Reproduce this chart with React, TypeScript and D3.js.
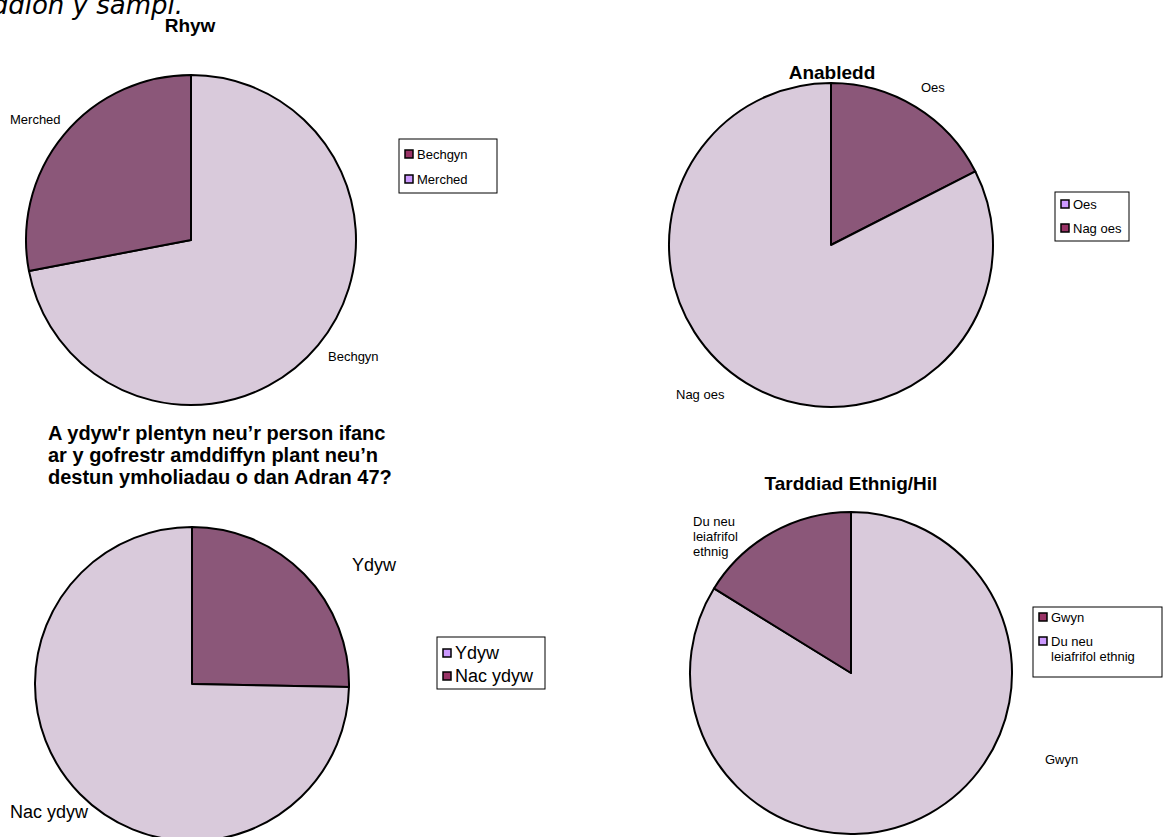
import React from "react";
import * as d3 from "d3";

const genderLabels = ["Bechgyn", "Merched"];
const genderValues = [72, 28];
const disabilityLabels = ["Oes", "Nag oes"];
const disabilityValues = [17.5, 82.5];
const registerLabels = ["Ydyw", "Nac ydyw"];
const registerValues = [25.3, 74.7];
const ethnicLabels = ["Gwyn", "Du neu leiafrifol ethnig"];
const ethnicValues = [83.8, 16.2];

const DARK = "#8b5779";
const LIGHT = "#d9cadb";
const MAROON = "#993366";
const LILAC = "#cc99ff";
const FONT = "'Liberation Sans', Arial, sans-serif";

type PieProps = {
  cx: number;
  cy: number;
  r: number;
  values: number[];
  fills: string[];
};

function Pie({ cx, cy, r, values, fills }: PieProps) {
  const pie = d3.pie<number>().sort(null).value((d) => d)(values);
  const arc = d3.arc<d3.PieArcDatum<number>>().innerRadius(0).outerRadius(r);
  return (
    <g transform={`translate(${cx},${cy})`}>
      {pie.map((p, i) => (
        <path key={i} d={arc(p) || ""} fill={fills[i]} stroke="#000" strokeWidth={2} strokeLinejoin="round" />
      ))}
    </g>
  );
}

type LegendProps = {
  x: number;
  y: number;
  w: number;
  h: number;
  items: { lines: string[]; y: number; color: string }[];
  fontSize: number;
  sw: number;
};

function Legend({ x, y, w, h, items, fontSize, sw }: LegendProps) {
  return (
    <g>
      <rect x={x} y={y} width={w} height={h} fill="#fff" stroke="#000" strokeWidth={1} />
      {items.map((it, i) => (
        <g key={i}>
          <rect x={x + 6} y={it.y - sw / 2} width={sw} height={sw} fill={it.color} stroke="#000" strokeWidth={1.5} />
          {it.lines.map((ln, j) => (
            <text key={j} x={x + 6 + sw + 4} y={it.y + j * fontSize * 1.15} dy="0.35em" fontSize={fontSize} fontFamily={FONT} fill="#000">
              {ln}
            </text>
          ))}
        </g>
      ))}
    </g>
  );
}

export default function App() {
  const titleStyle = { fontFamily: FONT, fontWeight: 700, fontSize: 19, fill: "#000" } as const;
  const lbl = { fontFamily: FONT, fontSize: 13, fill: "#000" } as const;
  return (
    <svg width={1167} height={837} style={{ position: "absolute", left: 0, top: 0, background: "#fff" }}>
      <text x={183} y={14} textAnchor="end" fontFamily="'DejaVu Sans', Verdana, sans-serif" fontStyle="italic" fontSize={26} fill="#000">
        Nodweddion y sampl.
      </text>

      {/* Rhyw */}
      <text x={190} y={32} textAnchor="middle" {...titleStyle}>Rhyw</text>
      <Pie cx={191} cy={240} r={165} values={genderValues} fills={[LIGHT, DARK]} />
      <text x={328} y={361} {...lbl}>{genderLabels[0]}</text>
      <text x={10} y={124} {...lbl}>{genderLabels[1]}</text>
      <Legend x={399} y={139} w={98} h={54} fontSize={13} sw={8}
        items={[{ lines: [genderLabels[0]], y: 154, color: MAROON }, { lines: [genderLabels[1]], y: 179, color: LILAC }]} />

      {/* Anabledd */}
      <text x={832} y={79} textAnchor="middle" {...titleStyle}>Anabledd</text>
      <Pie cx={831} cy={245} r={162} values={disabilityValues} fills={[DARK, LIGHT]} />
      <text x={921} y={92} {...lbl}>{disabilityLabels[0]}</text>
      <text x={676} y={399} {...lbl}>{disabilityLabels[1]}</text>
      <Legend x={1055} y={192} w={74} h={49} fontSize={13} sw={8}
        items={[{ lines: [disabilityLabels[0]], y: 204, color: LILAC }, { lines: [disabilityLabels[1]], y: 228, color: MAROON }]} />

      {/* Register */}
      <text x={48} y={440} {...titleStyle} fontSize={20}>
        <tspan x={48} dy={0}>A ydyw'r plentyn neu’r person ifanc</tspan>
        <tspan x={48} dy={22}>ar y gofrestr amddiffyn plant neu’n</tspan>
        <tspan x={48} dy={22}>destun ymholiadau o dan Adran 47?</tspan>
      </text>
      <Pie cx={192} cy={684} r={157} values={registerValues} fills={[DARK, LIGHT]} />
      <text x={352} y={571} fontFamily={FONT} fontSize={18} fill="#000">{registerLabels[0]}</text>
      <text x={10} y={818} fontFamily={FONT} fontSize={18} fill="#000">{registerLabels[1]}</text>
      <Legend x={437} y={637} w={108} h={52} fontSize={18} sw={8}
        items={[{ lines: [registerLabels[0]], y: 653, color: LILAC }, { lines: [registerLabels[1]], y: 676, color: MAROON }]} />

      {/* Ethnic */}
      <text x={851} y={490} textAnchor="middle" {...titleStyle}>Tarddiad Ethnig/Hil</text>
      <Pie cx={851} cy={673} r={161} values={ethnicValues} fills={[LIGHT, DARK]} />
      <text x={1045} y={764} {...lbl}>{ethnicLabels[0]}</text>
      <text x={693} y={526} {...lbl}>
        <tspan x={693} dy={0}>Du neu</tspan>
        <tspan x={693} dy={15}>leiafrifol</tspan>
        <tspan x={693} dy={15}>ethnig</tspan>
      </text>
      <Legend x={1033} y={607} w={129} h={70} fontSize={13} sw={8}
        items={[{ lines: [ethnicLabels[0]], y: 617, color: MAROON }, { lines: ["Du neu", "leiafrifol ethnig"], y: 641, color: LILAC }]} />
    </svg>
  );
}
